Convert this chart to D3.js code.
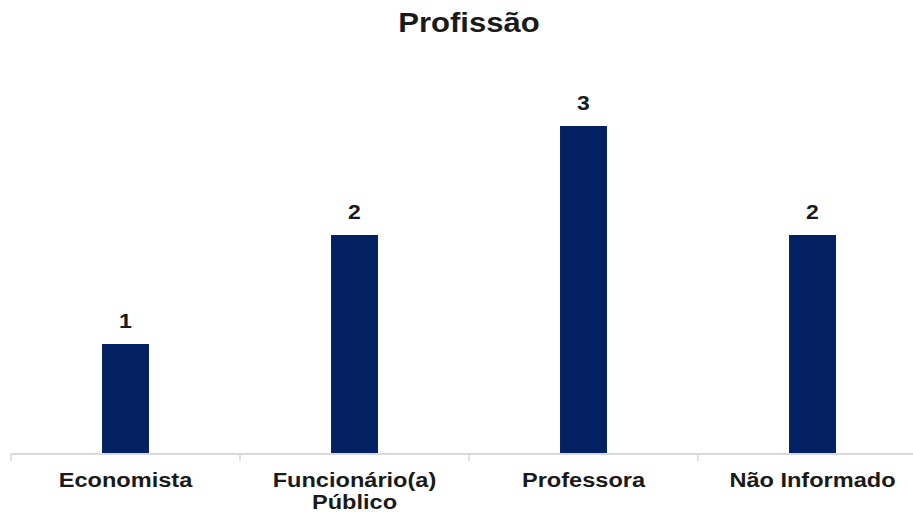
<!DOCTYPE html>
<html>
<head>
<meta charset="utf-8">
<script src="https://cdn.jsdelivr.net/npm/d3@7"></script>
<style>
  html, body { margin: 0; padding: 0; background: #fff; }
  svg { display: block; }
  text { font-family: "Liberation Sans", Arial, sans-serif; font-weight: bold; fill: #1a1a1a; }
</style>
</head>
<body>
<svg id="chart" width="913" height="513"></svg>
<script>
// Profissão dos participantes
const title = "Profissão";
const categories = ["Economista", "Funcionário(a)\nPúblico", "Professora", "Não Informado"];
const values = [1, 2, 3, 2];

const W = 913, H = 513;
const barColor = "#032163";
const stretch = 1.15; // horizontal text widening

const svg = d3.select("#chart");

const x = d3.scaleBand()
  .domain(categories)
  .range([11, 927])
  .paddingInner(0.795)
  .paddingOuter(0.3975);

const y = d3.scaleLinear()
  .domain([0, 3])
  .range([453, 126]);

// title
svg.append("text")
  .attr("transform", `translate(469,32) scale(${stretch},1)`)
  .attr("text-anchor", "middle")
  .style("font-size", "27px")
  .text(title);

// bars
svg.append("g")
  .selectAll("rect")
  .data(values)
  .join("rect")
  .attr("x", (d, i) => x(categories[i]))
  .attr("width", x.bandwidth())
  .attr("y", d => y(d))
  .attr("height", d => y(0) - y(d))
  .attr("fill", barColor);

// value labels
svg.append("g")
  .selectAll("text")
  .data(values)
  .join("text")
  .attr("transform", (d, i) =>
    `translate(${x(categories[i]) + x.bandwidth() / 2},${y(d) - 16}) scale(${stretch},1)`)
  .attr("text-anchor", "middle")
  .style("font-size", "20px")
  .text(d => d);

// category axis: baseline with tick marks between categories
const step = x.step();
const axisY = 454;
const axis = svg.append("g");
axis.append("line")
  .attr("x1", 11).attr("x2", 927)
  .attr("y1", axisY).attr("y2", axisY)
  .attr("stroke", "#d9d9d9").attr("stroke-width", 2);
axis.selectAll("line.tick")
  .data(d3.range(categories.length + 1))
  .join("line")
  .attr("class", "tick")
  .attr("x1", i => 11 + i * step).attr("x2", i => 11 + i * step)
  .attr("y1", axisY).attr("y2", axisY + 7)
  .attr("stroke", "#d9d9d9").attr("stroke-width", 1.5);

const labels = axis.selectAll("text.cat")
  .data(categories)
  .join("text")
  .attr("class", "cat")
  .attr("transform", d => `translate(${x(d) + x.bandwidth() / 2},487) scale(${stretch},1)`)
  .attr("text-anchor", "middle")
  .style("font-size", "20.5px");
labels.selectAll("tspan")
  .data(d => d.split("\n"))
  .join("tspan")
  .attr("x", 0)
  .attr("dy", (d, i) => i === 0 ? 0 : 22)
  .text(d => d);
</script>
</body>
</html>
